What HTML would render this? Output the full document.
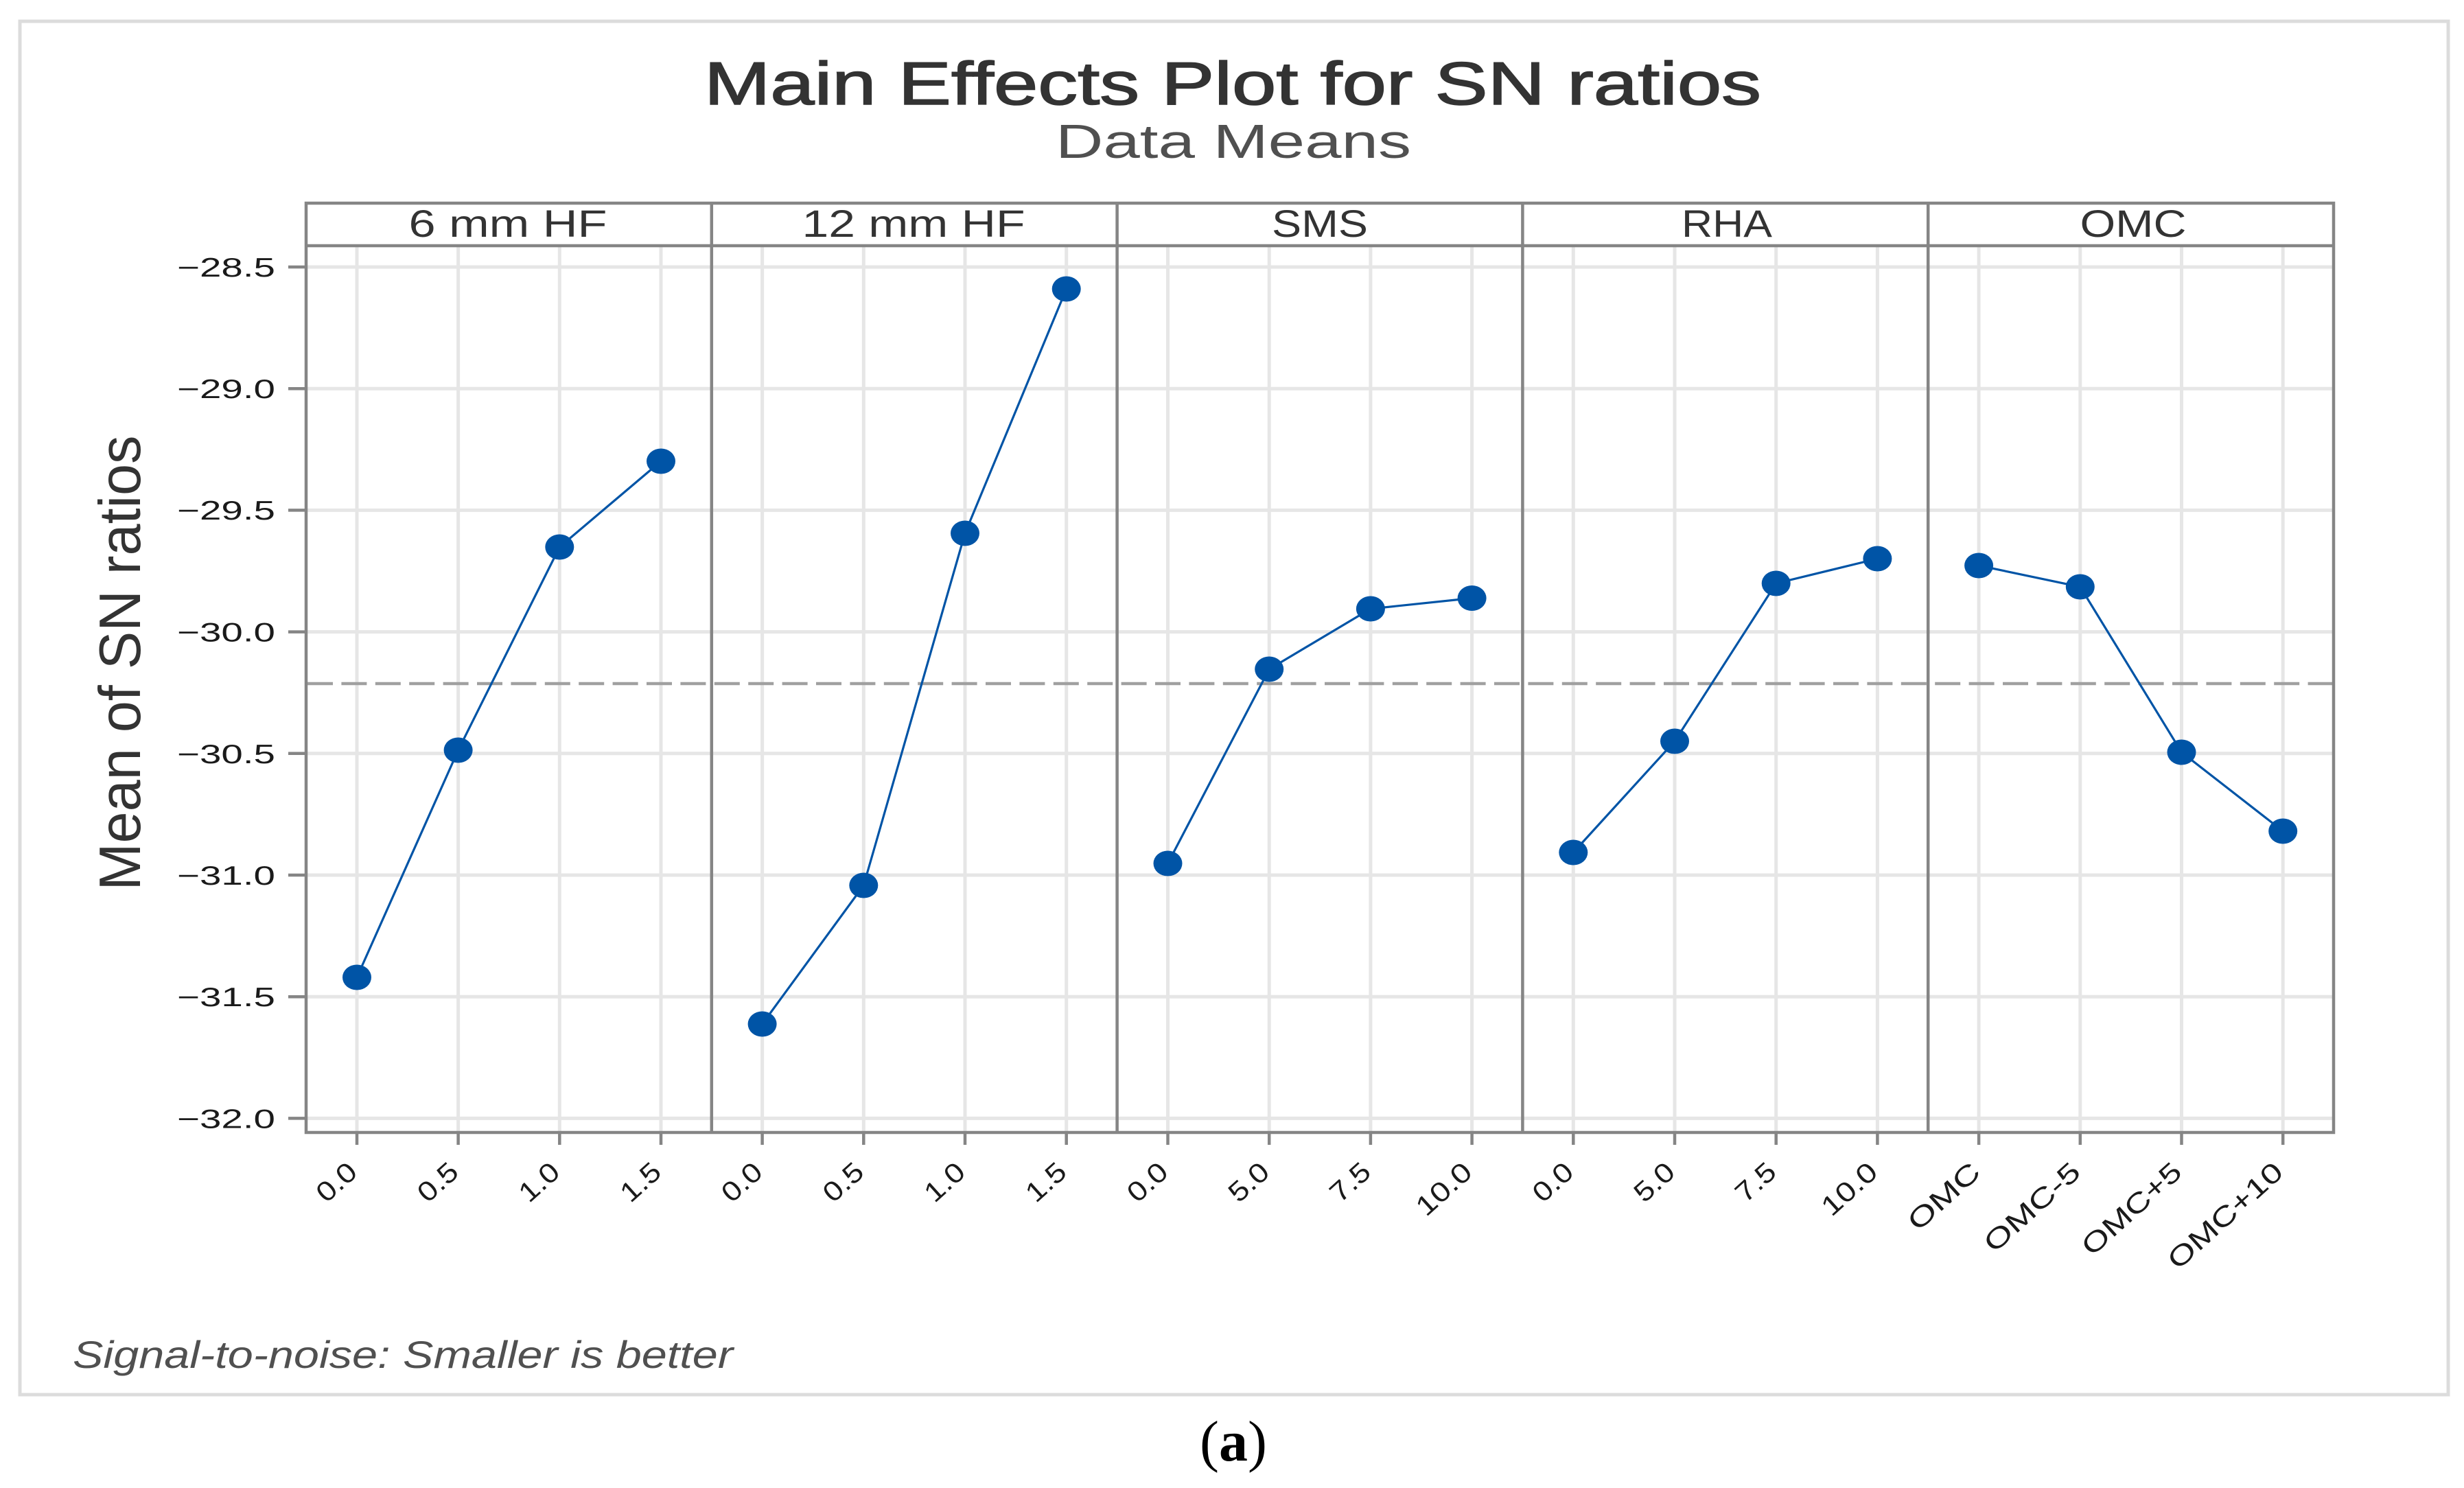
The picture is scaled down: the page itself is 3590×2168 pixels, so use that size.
<!DOCTYPE html>
<html>
<head>
<meta charset="utf-8">
<style>
  html, body { margin: 0; padding: 0; background: #ffffff; }
  svg { display: block; }
</style>
</head>
<body>
<svg width="3590" height="2168" viewBox="0 0 3590 2168" xmlns="http://www.w3.org/2000/svg">
  <rect x="0" y="0" width="3590" height="2168" fill="#ffffff"/>
  <!-- outer frame -->
  <rect x="29" y="31" width="3538" height="2001" fill="none" stroke="#dcdcdc" stroke-width="5"/>

  <!-- Title -->
  <text x="1796" y="152" text-anchor="middle" font-family="Liberation Sans, sans-serif" font-size="88" fill="#333333" stroke="#333333" stroke-width="1.6" textLength="1540" lengthAdjust="spacingAndGlyphs">Main Effects Plot for SN ratios</text>
  <text x="1797" y="230" text-anchor="middle" font-family="Liberation Sans, sans-serif" font-size="70" fill="#505050" textLength="518" lengthAdjust="spacingAndGlyphs">Data Means</text>

  <!-- horizontal gridlines -->
  <g stroke="#e6e6e6" stroke-width="5">
    <line x1="446" y1="389" x2="3400" y2="389"/>
    <line x1="446" y1="566.2" x2="3400" y2="566.2"/>
    <line x1="446" y1="743.4" x2="3400" y2="743.4"/>
    <line x1="446" y1="920.6" x2="3400" y2="920.6"/>
    <line x1="446" y1="1097.8" x2="3400" y2="1097.8"/>
    <line x1="446" y1="1275" x2="3400" y2="1275"/>
    <line x1="446" y1="1452.2" x2="3400" y2="1452.2"/>
    <line x1="446" y1="1629.4" x2="3400" y2="1629.4"/>
  </g>
  <!-- vertical gridlines -->
  <g stroke="#e6e6e6" stroke-width="5">
    <line x1="520" y1="358" x2="520" y2="1650"/>
    <line x1="667.6" y1="358" x2="667.6" y2="1650"/>
    <line x1="815.3" y1="358" x2="815.3" y2="1650"/>
    <line x1="963" y1="358" x2="963" y2="1650"/>
    <line x1="1110.6" y1="358" x2="1110.6" y2="1650"/>
    <line x1="1258.3" y1="358" x2="1258.3" y2="1650"/>
    <line x1="1406" y1="358" x2="1406" y2="1650"/>
    <line x1="1553.7" y1="358" x2="1553.7" y2="1650"/>
    <line x1="1701.5" y1="358" x2="1701.5" y2="1650"/>
    <line x1="1849.2" y1="358" x2="1849.2" y2="1650"/>
    <line x1="1996.9" y1="358" x2="1996.9" y2="1650"/>
    <line x1="2144.6" y1="358" x2="2144.6" y2="1650"/>
    <line x1="2292.3" y1="358" x2="2292.3" y2="1650"/>
    <line x1="2440" y1="358" x2="2440" y2="1650"/>
    <line x1="2587.7" y1="358" x2="2587.7" y2="1650"/>
    <line x1="2735.4" y1="358" x2="2735.4" y2="1650"/>
    <line x1="2883.1" y1="358" x2="2883.1" y2="1650"/>
    <line x1="3030.8" y1="358" x2="3030.8" y2="1650"/>
    <line x1="3178.5" y1="358" x2="3178.5" y2="1650"/>
    <line x1="3326.2" y1="358" x2="3326.2" y2="1650"/>
  </g>

  <!-- mean reference dashed line -->
  <line x1="448" y1="996" x2="3398" y2="996" stroke="#a0a0a0" stroke-width="4.5" stroke-dasharray="37 12.4"/>

  <!-- frame, strip, dividers -->
  <g stroke="#858585" stroke-width="4.5" fill="none">
    <rect x="446" y="296" width="2954" height="1354"/>
    <line x1="446" y1="358" x2="3400" y2="358"/>
    <line x1="1036.8" y1="296" x2="1036.8" y2="1650"/>
    <line x1="1627.6" y1="296" x2="1627.6" y2="1650"/>
    <line x1="2218.4" y1="296" x2="2218.4" y2="1650"/>
    <line x1="2809.2" y1="296" x2="2809.2" y2="1650"/>
  </g>
  <!-- y ticks -->
  <g stroke="#858585" stroke-width="4.5">
    <line x1="420" y1="389" x2="446" y2="389"/>
    <line x1="420" y1="566.2" x2="446" y2="566.2"/>
    <line x1="420" y1="743.4" x2="446" y2="743.4"/>
    <line x1="420" y1="920.6" x2="446" y2="920.6"/>
    <line x1="420" y1="1097.8" x2="446" y2="1097.8"/>
    <line x1="420" y1="1275" x2="446" y2="1275"/>
    <line x1="420" y1="1452.2" x2="446" y2="1452.2"/>
    <line x1="420" y1="1629.4" x2="446" y2="1629.4"/>
  </g>
  <!-- x ticks -->
  <g stroke="#858585" stroke-width="4.5">
    <line x1="520" y1="1650" x2="520" y2="1668"/>
    <line x1="667.6" y1="1650" x2="667.6" y2="1668"/>
    <line x1="815.3" y1="1650" x2="815.3" y2="1668"/>
    <line x1="963" y1="1650" x2="963" y2="1668"/>
    <line x1="1110.6" y1="1650" x2="1110.6" y2="1668"/>
    <line x1="1258.3" y1="1650" x2="1258.3" y2="1668"/>
    <line x1="1406" y1="1650" x2="1406" y2="1668"/>
    <line x1="1553.7" y1="1650" x2="1553.7" y2="1668"/>
    <line x1="1701.5" y1="1650" x2="1701.5" y2="1668"/>
    <line x1="1849.2" y1="1650" x2="1849.2" y2="1668"/>
    <line x1="1996.9" y1="1650" x2="1996.9" y2="1668"/>
    <line x1="2144.6" y1="1650" x2="2144.6" y2="1668"/>
    <line x1="2292.3" y1="1650" x2="2292.3" y2="1668"/>
    <line x1="2440" y1="1650" x2="2440" y2="1668"/>
    <line x1="2587.7" y1="1650" x2="2587.7" y2="1668"/>
    <line x1="2735.4" y1="1650" x2="2735.4" y2="1668"/>
    <line x1="2883.1" y1="1650" x2="2883.1" y2="1668"/>
    <line x1="3030.8" y1="1650" x2="3030.8" y2="1668"/>
    <line x1="3178.5" y1="1650" x2="3178.5" y2="1668"/>
    <line x1="3326.2" y1="1650" x2="3326.2" y2="1668"/>
  </g>

  <!-- strip labels -->
  <g font-family="Liberation Sans, sans-serif" font-size="56" fill="#333333" text-anchor="middle">
    <text x="740" y="345" textLength="289" lengthAdjust="spacingAndGlyphs">6 mm HF</text>
    <text x="1331" y="345" textLength="325" lengthAdjust="spacingAndGlyphs">12 mm HF</text>
    <text x="1923" y="345" textLength="140" lengthAdjust="spacingAndGlyphs">SMS</text>
    <text x="2516" y="345" textLength="132" lengthAdjust="spacingAndGlyphs">RHA</text>
    <text x="3108" y="345" textLength="155" lengthAdjust="spacingAndGlyphs">OMC</text>
  </g>

  <!-- y tick labels -->
  <g font-family="Liberation Sans, sans-serif" font-size="39" fill="#1a1a1a" text-anchor="end">
    <text x="401" y="403" textLength="143" lengthAdjust="spacingAndGlyphs">−28.5</text>
    <text x="401" y="580" textLength="143" lengthAdjust="spacingAndGlyphs">−29.0</text>
    <text x="401" y="757" textLength="143" lengthAdjust="spacingAndGlyphs">−29.5</text>
    <text x="401" y="934.6" textLength="143" lengthAdjust="spacingAndGlyphs">−30.0</text>
    <text x="401" y="1111.8" textLength="143" lengthAdjust="spacingAndGlyphs">−30.5</text>
    <text x="401" y="1289" textLength="143" lengthAdjust="spacingAndGlyphs">−31.0</text>
    <text x="401" y="1466.2" textLength="143" lengthAdjust="spacingAndGlyphs">−31.5</text>
    <text x="401" y="1643.4" textLength="143" lengthAdjust="spacingAndGlyphs">−32.0</text>
  </g>

  <!-- y axis label -->
  <text x="0" y="0" transform="translate(204,966) rotate(-90)" text-anchor="middle" font-family="Liberation Sans, sans-serif" font-size="85" fill="#333333" textLength="663" lengthAdjust="spacingAndGlyphs">Mean of SN ratios</text>

  <!-- x tick labels -->
  <g font-family="Liberation Sans, sans-serif" font-size="40" fill="#1a1a1a" text-anchor="end">
    <text transform="translate(523,1711) rotate(-42)" textLength="64" lengthAdjust="spacingAndGlyphs">0.0</text>
    <text transform="translate(670.6,1711) rotate(-42)" textLength="64" lengthAdjust="spacingAndGlyphs">0.5</text>
    <text transform="translate(818.3,1711) rotate(-42)" textLength="64" lengthAdjust="spacingAndGlyphs">1.0</text>
    <text transform="translate(966,1711) rotate(-42)" textLength="64" lengthAdjust="spacingAndGlyphs">1.5</text>

    <text transform="translate(1113.6,1711) rotate(-42)" textLength="64" lengthAdjust="spacingAndGlyphs">0.0</text>
    <text transform="translate(1261.3,1711) rotate(-42)" textLength="64" lengthAdjust="spacingAndGlyphs">0.5</text>
    <text transform="translate(1409,1711) rotate(-42)" textLength="64" lengthAdjust="spacingAndGlyphs">1.0</text>
    <text transform="translate(1556.7,1711) rotate(-42)" textLength="64" lengthAdjust="spacingAndGlyphs">1.5</text>

    <text transform="translate(1704.5,1711) rotate(-42)" textLength="64" lengthAdjust="spacingAndGlyphs">0.0</text>
    <text transform="translate(1852.2,1711) rotate(-42)" textLength="64" lengthAdjust="spacingAndGlyphs">5.0</text>
    <text transform="translate(1999.9,1711) rotate(-42)" textLength="64" lengthAdjust="spacingAndGlyphs">7.5</text>
    <text transform="translate(2147.6,1711) rotate(-42)" textLength="94" lengthAdjust="spacingAndGlyphs">10.0</text>

    <text transform="translate(2295.3,1711) rotate(-42)" textLength="64" lengthAdjust="spacingAndGlyphs">0.0</text>
    <text transform="translate(2443,1711) rotate(-42)" textLength="64" lengthAdjust="spacingAndGlyphs">5.0</text>
    <text transform="translate(2590.7,1711) rotate(-42)" textLength="64" lengthAdjust="spacingAndGlyphs">7.5</text>
    <text transform="translate(2738.4,1711) rotate(-42)" textLength="94" lengthAdjust="spacingAndGlyphs">10.0</text>

    <text transform="translate(2888,1711) rotate(-42)" textLength="126" lengthAdjust="spacingAndGlyphs">OMC</text>
    <text transform="translate(3034,1711) rotate(-42)" textLength="173" lengthAdjust="spacingAndGlyphs">OMC-5</text>
    <text transform="translate(3181.5,1711) rotate(-42)" textLength="180" lengthAdjust="spacingAndGlyphs">OMC+5</text>
    <text transform="translate(3329.2,1711) rotate(-42)" textLength="210" lengthAdjust="spacingAndGlyphs">OMC+10</text>
  </g>

  <!-- series lines -->
  <g fill="none" stroke="#0054a6" stroke-width="3.2">
    <polyline points="520,1424 667.6,1093 815.3,797 963,672"/>
    <polyline points="1110.6,1492 1258.3,1290 1406,777 1553.7,421"/>
    <polyline points="1701.5,1258 1849.2,975 1996.9,887 2144.6,871.5"/>
    <polyline points="2292.3,1242 2440,1080 2587.7,850 2735.4,814"/>
    <polyline points="2883.1,824 3030.8,855 3178.5,1096 3326.2,1211"/>
  </g>
  <!-- markers -->
  <g fill="#0054a6">
    <ellipse cx="520" cy="1424" rx="21" ry="18.5"/>
    <ellipse cx="667.6" cy="1093" rx="21" ry="18.5"/>
    <ellipse cx="815.3" cy="797" rx="21" ry="18.5"/>
    <ellipse cx="963" cy="672" rx="21" ry="18.5"/>

    <ellipse cx="1110.6" cy="1492" rx="21" ry="18.5"/>
    <ellipse cx="1258.3" cy="1290" rx="21" ry="18.5"/>
    <ellipse cx="1406" cy="777" rx="21" ry="18.5"/>
    <ellipse cx="1553.7" cy="421" rx="21" ry="18.5"/>

    <ellipse cx="1701.5" cy="1258" rx="21" ry="18.5"/>
    <ellipse cx="1849.2" cy="975" rx="21" ry="18.5"/>
    <ellipse cx="1996.9" cy="887" rx="21" ry="18.5"/>
    <ellipse cx="2144.6" cy="871.5" rx="21" ry="18.5"/>

    <ellipse cx="2292.3" cy="1242" rx="21" ry="18.5"/>
    <ellipse cx="2440" cy="1080" rx="21" ry="18.5"/>
    <ellipse cx="2587.7" cy="850" rx="21" ry="18.5"/>
    <ellipse cx="2735.4" cy="814" rx="21" ry="18.5"/>

    <ellipse cx="2883.1" cy="824" rx="21" ry="18.5"/>
    <ellipse cx="3030.8" cy="855" rx="21" ry="18.5"/>
    <ellipse cx="3178.5" cy="1096" rx="21" ry="18.5"/>
    <ellipse cx="3326.2" cy="1211" rx="21" ry="18.5"/>
  </g>

  <!-- footnote -->
  <text x="106" y="1993" font-family="Liberation Sans, sans-serif" font-style="italic" font-size="56" fill="#505050" textLength="962" lengthAdjust="spacingAndGlyphs">Signal-to-noise: Smaller is better</text>

  <!-- caption -->
  <text x="1797" y="2128" text-anchor="middle" font-family="Liberation Serif, serif" font-size="84" fill="#000000">(<tspan font-weight="bold">a</tspan>)</text>
</svg>
</body>
</html>
